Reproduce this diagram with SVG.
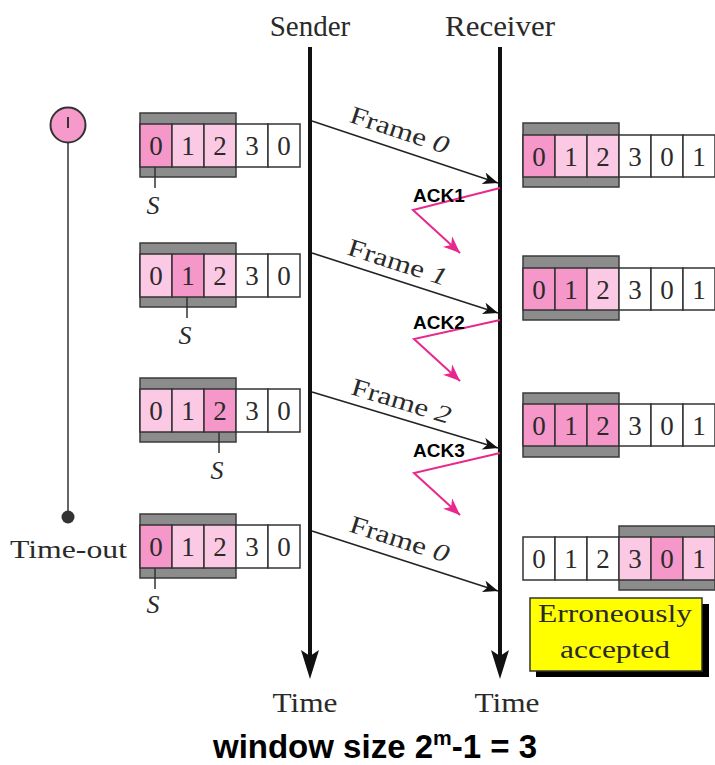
<svg xmlns="http://www.w3.org/2000/svg" width="715" height="765" viewBox="0 0 715 765">
  <style>
    .serif { font-family: "Liberation Serif", "DejaVu Serif", serif; fill: #2a2a2a; }
    .sans { font-family: "Liberation Sans", Arial, sans-serif; font-weight: bold; fill: #000; }
    .bar { fill: #8c8c8c; stroke: #3a3a3a; stroke-width: 1.5; }
    .c { fill: #ffffff; stroke: #333; stroke-width: 1.5; }
    .d { fill: #f597c9; stroke: #333; stroke-width: 1.5; }
    .l { fill: #fcc9e4; stroke: #333; stroke-width: 1.5; }
    .dg { font-size: 27px; text-anchor: middle; }
    .s { font-size: 26px; font-style: italic; text-anchor: middle; }
    .tick { stroke: #333; stroke-width: 1.5; }
    .frame { stroke: #222; stroke-width: 1.6; fill: none; marker-end: url(#blk); }
    .ack { stroke: #e8288c; stroke-width: 2; fill: none; marker-end: url(#pnk); }
    .axis { stroke: #111; stroke-width: 4; }
    .fl { font-size: 25px; text-anchor: middle; }
  </style>
  <defs>
    <marker id="blk" markerUnits="userSpaceOnUse" markerWidth="16" markerHeight="12" refX="15" refY="6" orient="auto">
      <path d="M0,0 L15,6 L0,12 L4,6 z" fill="#111"/>
    </marker>
    <marker id="pnk" markerUnits="userSpaceOnUse" markerWidth="18" markerHeight="14" refX="17" refY="7" orient="auto">
      <path d="M0,0 L17,7 L0,14 L5,7 z" fill="#e8288c"/>
    </marker>
  </defs>

  <!-- column headings -->
  <text class="serif" x="310" y="36" font-size="29" text-anchor="middle">Sender</text>
  <text class="serif" x="500" y="36" font-size="29" text-anchor="middle" textLength="110" lengthAdjust="spacingAndGlyphs">Receiver</text>

  <!-- timer -->
  <g id="timer">
    <line x1="68" y1="142" x2="68" y2="517" stroke="#555" stroke-width="1.8"/>
    <circle cx="68" cy="125" r="17.5" fill="#f59acb" stroke="#333" stroke-width="2"/>
    <line x1="68" y1="117" x2="68" y2="128" stroke="#333" stroke-width="2"/>
    <circle cx="68" cy="517" r="6.5" fill="#333"/>
    <text class="serif" x="10" y="558" font-size="26" textLength="117" lengthAdjust="spacingAndGlyphs">Time-out</text>
  </g>

  <!-- sender windows -->
  <g id="sender-window-1">
    <rect class="bar" x="140" y="113" width="96" height="64"/>
    <rect class="d" x="140" y="124" width="32" height="43"/>
    <rect class="l" x="172" y="124" width="32" height="43"/>
    <rect class="l" x="204" y="124" width="32" height="43"/>
    <rect class="c" x="236" y="124" width="32" height="43"/>
    <rect class="c" x="268" y="124" width="32" height="43"/>
    <g class="serif dg"><text x="156" y="155">0</text><text x="188" y="155">1</text><text x="220" y="155">2</text><text x="252" y="155">3</text><text x="284" y="155">0</text></g>
    <line class="tick" x1="155" y1="167" x2="155" y2="188"/>
    <text class="serif s" x="153" y="214">S</text>
  </g>
  <g id="sender-window-2">
    <rect class="bar" x="140" y="243" width="96" height="64"/>
    <rect class="l" x="140" y="254" width="32" height="43"/>
    <rect class="d" x="172" y="254" width="32" height="43"/>
    <rect class="l" x="204" y="254" width="32" height="43"/>
    <rect class="c" x="236" y="254" width="32" height="43"/>
    <rect class="c" x="268" y="254" width="32" height="43"/>
    <g class="serif dg"><text x="156" y="285">0</text><text x="188" y="285">1</text><text x="220" y="285">2</text><text x="252" y="285">3</text><text x="284" y="285">0</text></g>
    <line class="tick" x1="187" y1="297" x2="187" y2="318"/>
    <text class="serif s" x="185" y="344">S</text>
  </g>
  <g id="sender-window-3">
    <rect class="bar" x="140" y="378" width="96" height="64"/>
    <rect class="l" x="140" y="389" width="32" height="43"/>
    <rect class="l" x="172" y="389" width="32" height="43"/>
    <rect class="d" x="204" y="389" width="32" height="43"/>
    <rect class="c" x="236" y="389" width="32" height="43"/>
    <rect class="c" x="268" y="389" width="32" height="43"/>
    <g class="serif dg"><text x="156" y="420">0</text><text x="188" y="420">1</text><text x="220" y="420">2</text><text x="252" y="420">3</text><text x="284" y="420">0</text></g>
    <line class="tick" x1="219" y1="432" x2="219" y2="453"/>
    <text class="serif s" x="217" y="479">S</text>
  </g>
  <g id="sender-window-4">
    <rect class="bar" x="140" y="514" width="96" height="64"/>
    <rect class="d" x="140" y="525" width="32" height="43"/>
    <rect class="l" x="172" y="525" width="32" height="43"/>
    <rect class="l" x="204" y="525" width="32" height="43"/>
    <rect class="c" x="236" y="525" width="32" height="43"/>
    <rect class="c" x="268" y="525" width="32" height="43"/>
    <g class="serif dg"><text x="156" y="556">0</text><text x="188" y="556">1</text><text x="220" y="556">2</text><text x="252" y="556">3</text><text x="284" y="556">0</text></g>
    <line class="tick" x1="155" y1="568" x2="155" y2="589"/>
    <text class="serif s" x="153" y="613">S</text>
  </g>

  <!-- receiver windows -->
  <g id="receiver-window-1">
    <rect class="bar" x="523" y="123" width="96" height="64"/>
    <rect class="d" x="523" y="135" width="32" height="42"/>
    <rect class="l" x="555" y="135" width="32" height="42"/>
    <rect class="l" x="587" y="135" width="32" height="42"/>
    <rect class="c" x="619" y="135" width="32" height="42"/>
    <rect class="c" x="651" y="135" width="32" height="42"/>
    <rect class="c" x="683" y="135" width="32" height="42"/>
    <g class="serif dg"><text x="539" y="166">0</text><text x="571" y="166">1</text><text x="603" y="166">2</text><text x="635" y="166">3</text><text x="667" y="166">0</text><text x="699" y="166">1</text></g>
  </g>
  <g id="receiver-window-2">
    <rect class="bar" x="523" y="256" width="96" height="64"/>
    <rect class="d" x="523" y="268" width="32" height="42"/>
    <rect class="d" x="555" y="268" width="32" height="42"/>
    <rect class="l" x="587" y="268" width="32" height="42"/>
    <rect class="c" x="619" y="268" width="32" height="42"/>
    <rect class="c" x="651" y="268" width="32" height="42"/>
    <rect class="c" x="683" y="268" width="32" height="42"/>
    <g class="serif dg"><text x="539" y="299">0</text><text x="571" y="299">1</text><text x="603" y="299">2</text><text x="635" y="299">3</text><text x="667" y="299">0</text><text x="699" y="299">1</text></g>
  </g>
  <g id="receiver-window-3">
    <rect class="bar" x="523" y="393" width="96" height="64"/>
    <rect class="d" x="523" y="404" width="32" height="42"/>
    <rect class="d" x="555" y="404" width="32" height="42"/>
    <rect class="d" x="587" y="404" width="32" height="42"/>
    <rect class="c" x="619" y="404" width="32" height="42"/>
    <rect class="c" x="651" y="404" width="32" height="42"/>
    <rect class="c" x="683" y="404" width="32" height="42"/>
    <g class="serif dg"><text x="539" y="435">0</text><text x="571" y="435">1</text><text x="603" y="435">2</text><text x="635" y="435">3</text><text x="667" y="435">0</text><text x="699" y="435">1</text></g>
  </g>
  <g id="receiver-window-4">
    <rect class="bar" x="619" y="526" width="96" height="64"/>
    <rect class="c" x="523" y="537" width="32" height="43"/>
    <rect class="c" x="555" y="537" width="32" height="43"/>
    <rect class="c" x="587" y="537" width="32" height="43"/>
    <rect class="l" x="619" y="537" width="32" height="43"/>
    <rect class="d" x="651" y="537" width="32" height="43"/>
    <rect class="l" x="683" y="537" width="32" height="43"/>
    <g class="serif dg"><text x="539" y="568">0</text><text x="571" y="568">1</text><text x="603" y="568">2</text><text x="635" y="568">3</text><text x="667" y="568">0</text><text x="699" y="568">1</text></g>
  </g>

  <!-- note -->
  <g id="note">
    <rect x="536" y="604" width="173" height="73" fill="#000"/>
    <rect x="530" y="598" width="172" height="73" fill="#ffff00" stroke="#333" stroke-width="1.5"/>
    <text class="serif" x="615" y="622" font-size="25" text-anchor="middle" textLength="154" lengthAdjust="spacingAndGlyphs">Erroneously</text>
    <text class="serif" x="615" y="658" font-size="25" text-anchor="middle" textLength="110" lengthAdjust="spacingAndGlyphs">accepted</text>
  </g>

  <!-- connectors -->
  <g id="connectors">
    <!-- time axes -->
    <line class="axis" x1="310" y1="47" x2="310" y2="660"/>
    <polygon points="301,650 310,679 319,650 310,656" fill="#111"/>
    <line class="axis" x1="500" y1="47" x2="500" y2="660"/>
    <polygon points="491,650 500,679 509,650 500,656" fill="#111"/>

    <!-- frames -->
    <line class="frame" x1="312" y1="121" x2="498" y2="183"/>
    <line class="frame" x1="312" y1="253" x2="498" y2="313"/>
    <line class="frame" x1="312" y1="392" x2="498" y2="448"/>
    <line class="frame" x1="312" y1="531" x2="498" y2="591"/>

    <!-- acknowledgements -->
    <polyline class="ack" points="500,188 413,210 460,253"/>
    <polyline class="ack" points="500,320 414,339 460,381"/>
    <polyline class="ack" points="500,453 414,473 460,515"/>
  </g>

  <!-- frame labels -->
  <g class="serif fl">
    <text transform="translate(397,138) rotate(18.4)" textLength="103" lengthAdjust="spacingAndGlyphs">Frame <tspan font-style="italic">0</tspan></text>
    <text transform="translate(395,270) rotate(17.8)" textLength="103" lengthAdjust="spacingAndGlyphs">Frame <tspan font-style="italic">1</tspan></text>
    <text transform="translate(399,409) rotate(16.8)" textLength="103" lengthAdjust="spacingAndGlyphs">Frame <tspan font-style="italic">2</tspan></text>
    <text transform="translate(397,547) rotate(17.8)" textLength="103" lengthAdjust="spacingAndGlyphs">Frame <tspan font-style="italic">0</tspan></text>
  </g>

  <!-- ack labels -->
  <text class="sans" x="413" y="202" font-size="19">ACK1</text>
  <text class="sans" x="413" y="329" font-size="19">ACK2</text>
  <text class="sans" x="413" y="457" font-size="19">ACK3</text>

  <!-- time labels -->
  <text class="serif" x="305" y="712" font-size="27" text-anchor="middle" textLength="65" lengthAdjust="spacingAndGlyphs">Time</text>
  <text class="serif" x="507" y="712" font-size="27" text-anchor="middle" textLength="65" lengthAdjust="spacingAndGlyphs">Time</text>

  <!-- caption -->
  <text class="sans" x="375" y="758" font-size="33" text-anchor="middle">window size 2<tspan font-size="21" dy="-13">m</tspan><tspan dy="13">-1 = 3</tspan></text>
</svg>
